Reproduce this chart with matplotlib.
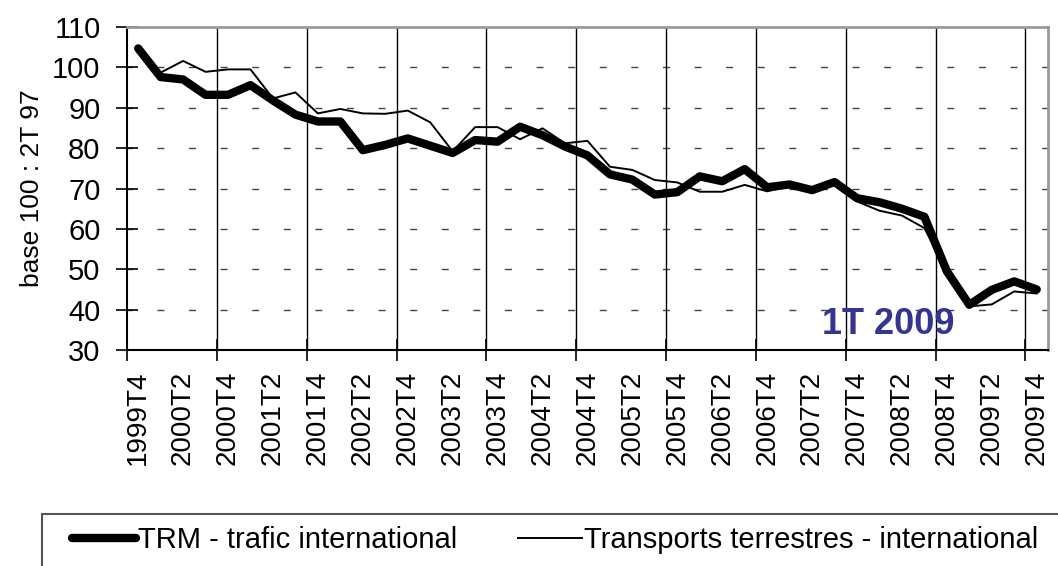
"""
Indice trafic international - TRM vs transports terrestres (base 100 : 2T 97)
"""

from matplotlib import pyplot as plt
from matplotlib.patches import Rectangle

# trimestres 1999T4 -> 2009T4 (41 points), étiquette un trimestre sur deux
labels = ['1999T4', '2000T2', '2000T4', '2001T2', '2001T4', '2002T2', '2002T4',
          '2003T2', '2003T4', '2004T2', '2004T4', '2005T2', '2005T4', '2006T2',
          '2006T4', '2007T2', '2007T4', '2008T2', '2008T4', '2009T2', '2009T4']

trm = [104.7, 97.6, 97.0, 93.2, 93.2, 95.6, 91.8, 88.3, 86.6, 86.6,
       79.5, 80.8, 82.4, 80.6, 78.8, 82.0, 81.6, 85.3, 83.2, 80.4,
       78.2, 73.5, 72.2, 68.5, 69.1, 73.0, 71.8, 74.8, 70.3, 71.0,
       69.6, 71.6, 67.6, 66.6, 65.0, 63.0, 49.5, 41.2, 44.9, 47.0, 45.0]

terrestres = [104.2, 98.7, 101.6, 98.9, 99.5, 99.5, 92.3, 93.8, 88.6, 89.7,
              88.6, 88.5, 89.3, 86.4, 79.2, 85.2, 85.2, 82.2, 84.9, 81.2,
              81.8, 75.4, 74.6, 72.1, 71.5, 69.2, 69.2, 70.9, 69.3, 70.6,
              69.6, 71.0, 66.8, 64.5, 63.3, 60.2, 49.5, 40.8, 41.3, 44.5, 44.0]

plt.rcParams['font.family'] = ['Liberation Sans', 'DejaVu Sans']

fig = plt.figure(figsize=(10.58, 5.66), dpi=100)
ax = fig.add_axes([0.12, 0.3816, 0.8705, 0.5707])

x = list(range(len(trm)))

# grille : tirets horizontaux, traits verticaux chaque année
for y in range(40, 110, 10):
    ax.axhline(y, color='#444444', lw=1, ls=(1.2, (5, 17.75)), zorder=1)
for xv in range(3, len(trm), 4):
    ax.axvline(xv + 0.5, color='black', lw=1, zorder=1)

l1, = ax.plot(x, trm, color='black', lw=6, solid_joinstyle='round',
              solid_capstyle='round', zorder=3, label='TRM - trafic international')
l2, = ax.plot(x, terrestres, color='black', lw=1.4, zorder=4,
              label='Transports terrestres - international')

ax.set_xlim(-0.5, len(trm) - 0.5)
ax.set_ylim(30, 110)
ax.set_yticks(range(30, 111, 10))
ax.tick_params(axis='y', direction='inout', length=16, width=1.2,
               labelsize=21, pad=11)

ax.set_xticks([v - 0.5 for v in range(0, len(trm) + 1, 4)])
ax.set_xticklabels([])
ax.tick_params(axis='x', which='major', direction='inout', length=16, width=1.2)
ax.set_xticks(range(0, len(trm), 2), minor=True)
ax.set_xticklabels(labels, minor=True, rotation=90)
ax.tick_params(axis='x', which='minor', length=0, labelsize=20, pad=15)

ax.set_ylabel('base 100 : 2T 97', fontsize=19, labelpad=6)

for s in ['left', 'bottom']:
    ax.spines[s].set_linewidth(1.5)
for s in ['top', 'right']:
    ax.spines[s].set_color('#999999')
    ax.spines[s].set_linewidth(2)

ax.text(33.4, 36.2, '1T 2009', color='#333399', fontsize=26,
        fontweight='bold', ha='center', va='center', zorder=5)

# cadre de légende
fig.patches.append(Rectangle((42 / 1058, -0.05), 1.1, 0.05 + 52 / 566,
                             transform=fig.transFigure, fill=False,
                             edgecolor='#555555', lw=1.5))
fig.legend(handles=[l1, l2], loc='center left', ncol=2, frameon=False,
           bbox_to_anchor=(72 / 1058, 1 - 540 / 566), fontsize=21,
           handlelength=2.2, handletextpad=0.05, columnspacing=2.1,
           borderaxespad=0, borderpad=0)

plt.savefig('out.png', dpi=100)
